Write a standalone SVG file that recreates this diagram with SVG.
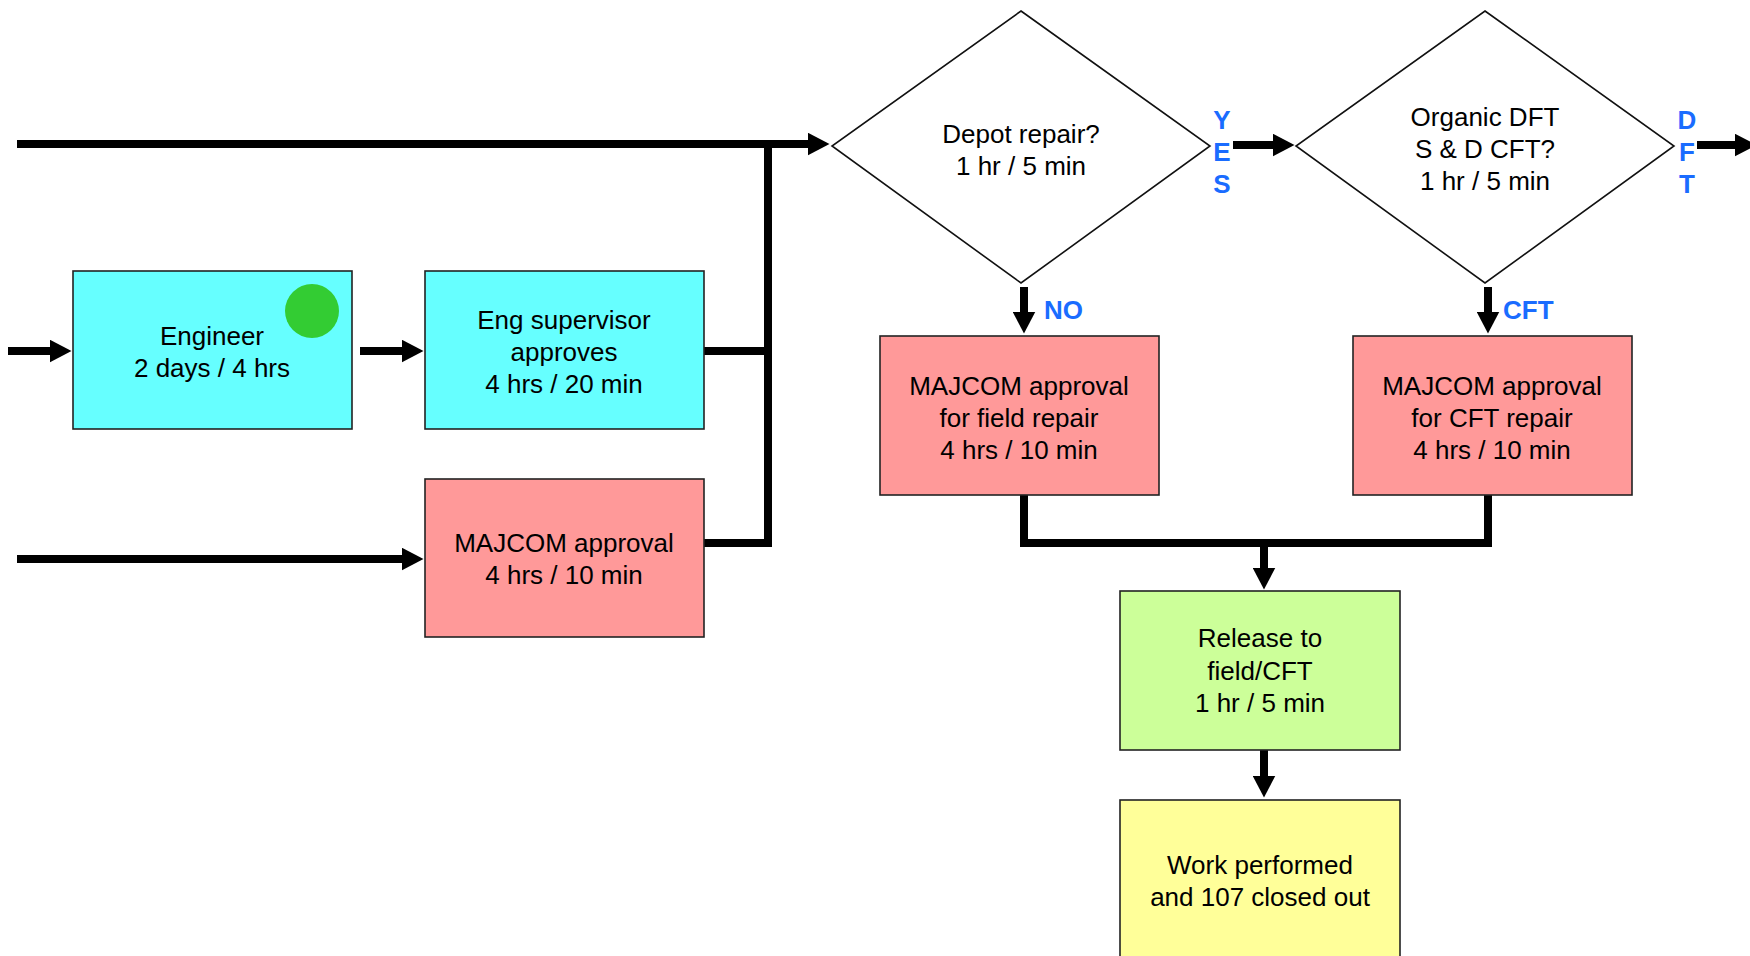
<svg xmlns="http://www.w3.org/2000/svg" width="1750" height="956" viewBox="0 0 1750 956">
<style>
.box{stroke:#222;stroke-width:1.6}
.cyan{fill:#66FFFF}
.pink{fill:#FF9999}
.green{fill:#CCFF99}
.yellow{fill:#FFFF99}
.dia{fill:#fff;stroke:#111;stroke-width:1.6}
.t{font-family:"Liberation Sans",Arial,sans-serif;font-size:26px;fill:#000;text-anchor:middle}
.lbl{font-family:"Liberation Sans",Arial,sans-serif;font-size:26px;font-weight:bold;fill:#1a6cff}
.c{fill:none;stroke:#000;stroke-width:8;stroke-linejoin:miter}
</style>
<defs>
<marker id="ah" viewBox="0 0 22 23" markerWidth="22" markerHeight="23" refX="0.5" refY="11.5" orient="auto" markerUnits="userSpaceOnUse">
<path d="M0,0 L22,11.5 L0,23 Z" fill="#000"/>
</marker>
</defs>

<g id="connectors">
<path class="c" d="M17,144 H808" marker-end="url(#ah)"/>
<path class="c" d="M704,543 H768 V140"/>
<path class="c" d="M704,351 H768"/>
<path class="c" d="M8,351 H50" marker-end="url(#ah)"/>
<path class="c" d="M360,351 H402" marker-end="url(#ah)"/>
<path class="c" d="M17,559 H402" marker-end="url(#ah)"/>
<path class="c" d="M1233,145 H1273" marker-end="url(#ah)"/>
<path class="c" d="M1697,145 H1735" marker-end="url(#ah)"/>
<path class="c" d="M1024,287 V312" marker-end="url(#ah)"/>
<path class="c" d="M1488,287 V312" marker-end="url(#ah)"/>
<path class="c" d="M1024,495 V543 H1488 V495"/>
<path class="c" d="M1264,543 V568" marker-end="url(#ah)"/>
<path class="c" d="M1264,750 V776" marker-end="url(#ah)"/>
</g>

<g id="engineer">
<rect class="box cyan" x="73" y="271" width="279" height="158"/>
<circle cx="312" cy="311" r="27" fill="#33CC33"/>
<text class="t" x="212" y="345">Engineer</text>
<text class="t" x="212" y="377">2 days / 4 hrs</text>
</g>

<g id="eng-supervisor">
<rect class="box cyan" x="425" y="271" width="279" height="158"/>
<text class="t" x="564" y="329">Eng supervisor</text>
<text class="t" x="564" y="361">approves</text>
<text class="t" x="564" y="393">4 hrs / 20 min</text>
</g>

<g id="majcom-approval">
<rect class="box pink" x="425" y="479" width="279" height="158"/>
<text class="t" x="564" y="552">MAJCOM approval</text>
<text class="t" x="564" y="584">4 hrs / 10 min</text>
</g>

<g id="depot-repair">
<polygon class="dia" points="1021,11 1210,146 1021,283 832,146"/>
<text class="t" x="1021" y="143">Depot repair?</text>
<text class="t" x="1021" y="175">1 hr / 5 min</text>
</g>

<g id="yes-label">
<text class="lbl" x="1222" y="129" text-anchor="middle">Y</text>
<text class="lbl" x="1222" y="161" text-anchor="middle">E</text>
<text class="lbl" x="1222" y="193" text-anchor="middle">S</text>
</g>

<g id="organic-dft">
<polygon class="dia" points="1485,11 1674,146 1485,283 1296,146"/>
<text class="t" x="1485" y="126">Organic DFT</text>
<text class="t" x="1485" y="158">S &amp; D CFT?</text>
<text class="t" x="1485" y="190">1 hr / 5 min</text>
</g>

<g id="dft-label">
<text class="lbl" x="1687" y="129" text-anchor="middle">D</text>
<text class="lbl" x="1687" y="161" text-anchor="middle">F</text>
<text class="lbl" x="1687" y="193" text-anchor="middle">T</text>
</g>

<g id="no-label">
<text class="lbl" x="1044" y="319">NO</text>
</g>

<g id="cft-label">
<text class="lbl" x="1503" y="319">CFT</text>
</g>

<g id="majcom-field">
<rect class="box pink" x="880" y="336" width="279" height="159"/>
<text class="t" x="1019" y="395">MAJCOM approval</text>
<text class="t" x="1019" y="427">for field repair</text>
<text class="t" x="1019" y="459">4 hrs / 10 min</text>
</g>

<g id="majcom-cft">
<rect class="box pink" x="1353" y="336" width="279" height="159"/>
<text class="t" x="1492" y="395">MAJCOM approval</text>
<text class="t" x="1492" y="427">for CFT repair</text>
<text class="t" x="1492" y="459">4 hrs / 10 min</text>
</g>

<g id="release">
<rect class="box green" x="1120" y="591" width="280" height="159"/>
<text class="t" x="1260" y="647">Release to</text>
<text class="t" x="1260" y="680">field/CFT</text>
<text class="t" x="1260" y="712">1 hr / 5 min</text>
</g>

<g id="work-performed">
<rect class="box yellow" x="1120" y="800" width="280" height="164"/>
<text class="t" x="1260" y="874">Work performed</text>
<text class="t" x="1260" y="906">and 107 closed out</text>
</g>
</svg>
